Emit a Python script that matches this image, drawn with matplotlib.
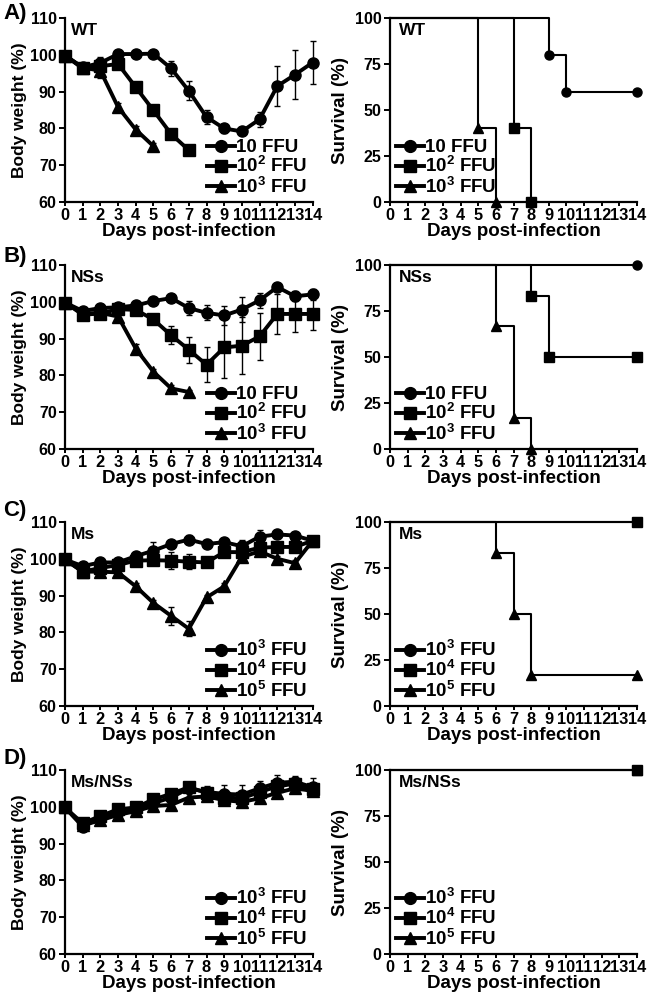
import numpy as np
import matplotlib
matplotlib.use('Agg')
import matplotlib.pyplot as plt
from matplotlib.lines import Line2D

plt.rcParams['font.family'] = ['Liberation Sans', 'DejaVu Sans']
plt.rcParams['font.weight'] = 'bold'
plt.rcParams['axes.labelweight'] = 'bold'
plt.rcParams['mathtext.fontset'] = 'custom'
plt.rcParams['mathtext.rm'] = 'Liberation Sans:bold'
plt.rcParams['mathtext.it'] = 'Liberation Sans:bold:italic'
plt.rcParams['mathtext.bf'] = 'Liberation Sans:bold'

days = list(range(15))

# ---- body weight (%), mean and error per day ----
wt_10 = [99.8, 96.6, 97.8, 100.2, 100.2, 100.3, 96.3, 90.2, 83.1, 80.0, 79.2, 82.5, 91.5, 94.6, 97.9]
wt_10_err = [0, 0.8, 1.5, 0, 0, 0, 2.0, 2.6, 1.9, 1.3, 1.0, 2.0, 5.5, 6.7, 5.8]
wt_1e2 = [99.8, 96.3, 96.9, 97.5, 91.2, 84.9, 78.5, 74.1]
wt_1e2_err = [0, 0.8, 1.2, 1.0, 1.2, 1.0, 1.0, 0.8]
wt_1e3 = [99.8, 96.5, 95.7, 85.8, 79.7, 75.2]
wt_1e3_err = [0, 0.8, 2.0, 1.0, 1.0, 0.8]

nss_10 = [99.8, 97.5, 98.3, 98.5, 99.0, 100.2, 101.0, 98.3, 97.0, 96.3, 97.9, 100.4, 104.0, 101.5, 102.0]
nss_10_err = [0, 0.5, 0.5, 0.5, 0.8, 0.8, 0.8, 2.0, 2.0, 2.5, 3.4, 2.0, 1.2, 1.4, 1.5]
nss_1e2 = [99.8, 96.5, 96.8, 98.0, 97.8, 95.2, 90.9, 87.0, 82.9, 87.6, 88.1, 90.6, 96.7, 96.7, 96.7]
nss_1e2_err = [0, 0.8, 0.8, 0.8, 1.0, 1.0, 2.4, 3.5, 4.7, 8.2, 7.7, 6.4, 5.5, 5.0, 4.3]
nss_1e3 = [99.8, 96.8, 97.0, 96.0, 87.3, 81.0, 76.5, 75.5]
nss_1e3_err = [0, 0.5, 0.5, 1.0, 1.2, 0.8, 0.8, 0.5]

ms_1e3 = [99.8, 98.0, 99.0, 99.0, 100.7, 102.2, 104.0, 105.2, 104.0, 104.5, 103.4, 106.0, 106.6, 106.3, 104.9]
ms_1e3_err = [0, 0.5, 0.5, 0.5, 0.8, 2.3, 1.0, 1.2, 0.8, 0.8, 1.8, 1.8, 0.8, 0.8, 0.8]
ms_1e4 = [99.8, 96.5, 97.5, 98.3, 99.5, 99.6, 99.5, 99.2, 99.0, 101.8, 101.8, 103.0, 103.2, 103.2, 104.9]
ms_1e4_err = [0, 0.5, 0.5, 0.5, 0.5, 0.8, 2.2, 2.0, 0.8, 0.8, 0.8, 0.8, 0.8, 0.8, 0.8]
ms_1e5 = [99.8, 96.5, 96.5, 96.3, 92.5, 88.0, 84.5, 81.0, 89.5, 92.5, 100.5, 102.0, 100.0, 98.8, 104.9]
ms_1e5_err = [0, 0.5, 0.5, 0.5, 0.8, 0.8, 2.5, 2.0, 0.8, 0.8, 1.0, 1.0, 0.8, 0.8, 0.8]

mn_1e3 = [99.8, 94.6, 97.0, 98.5, 99.3, 101.0, 102.5, 105.0, 104.0, 103.5, 103.3, 105.0, 106.5, 106.8, 105.3]
mn_1e3_err = [0, 0.8, 0.8, 0.8, 0.8, 0.8, 1.0, 1.0, 1.5, 2.3, 2.5, 2.0, 2.0, 1.5, 2.5]
mn_1e4 = [99.8, 95.5, 97.5, 99.3, 99.8, 102.0, 103.5, 105.3, 103.8, 102.5, 102.3, 104.0, 105.5, 106.3, 104.7]
mn_1e4_err = [0, 0.8, 0.8, 0.8, 0.8, 0.8, 0.8, 1.0, 1.0, 1.0, 1.0, 1.0, 1.0, 1.0, 1.5]
mn_1e5 = [99.8, 95.0, 96.3, 97.8, 98.8, 100.2, 100.5, 102.5, 102.8, 101.8, 101.3, 102.3, 103.8, 105.0, 104.3]
mn_1e5_err = [0, 0.8, 0.8, 0.8, 0.8, 0.8, 0.8, 1.0, 1.0, 1.0, 1.0, 1.0, 1.0, 1.0, 1.0]

# ---- survival (%), day of each step ----
wt_surv_10_x, wt_surv_10_y = [0, 9, 10, 14], [100, 80, 60, 60]
wt_surv_1e2_x, wt_surv_1e2_y = [0, 7, 8], [100, 40, 0]
wt_surv_1e3_x, wt_surv_1e3_y = [0, 5, 6], [100, 40, 0]

nss_surv_10_x, nss_surv_10_y = [0, 14], [100, 100]
nss_surv_1e2_x, nss_surv_1e2_y = [0, 8, 9, 14], [100, 83.3, 50, 50]
nss_surv_1e3_x, nss_surv_1e3_y = [0, 6, 7, 8], [100, 66.7, 16.7, 0]

ms_surv_1e3_x, ms_surv_1e3_y = [0, 14], [100, 100]
ms_surv_1e4_x, ms_surv_1e4_y = [0, 14], [100, 100]
ms_surv_1e5_x, ms_surv_1e5_y = [0, 6, 7, 8, 14], [100, 83.3, 50, 16.7, 16.7]

mn_surv_1e3_x, mn_surv_1e3_y = [0, 14], [100, 100]
mn_surv_1e4_x, mn_surv_1e4_y = [0, 14], [100, 100]
mn_surv_1e5_x, mn_surv_1e5_y = [0, 14], [100, 100]

low_labels = ['10 FFU', '10$^2$ FFU', '10$^3$ FFU']
high_labels = ['10$^3$ FFU', '10$^4$ FFU', '10$^5$ FFU']
markers = ['o', 's', '^']

rows = [
    ('A)', 'WT', low_labels,
     [(wt_10, wt_10_err), (wt_1e2, wt_1e2_err), (wt_1e3, wt_1e3_err)],
     [(wt_surv_10_x, wt_surv_10_y), (wt_surv_1e2_x, wt_surv_1e2_y), (wt_surv_1e3_x, wt_surv_1e3_y)]),
    ('B)', 'NSs', low_labels,
     [(nss_10, nss_10_err), (nss_1e2, nss_1e2_err), (nss_1e3, nss_1e3_err)],
     [(nss_surv_10_x, nss_surv_10_y), (nss_surv_1e2_x, nss_surv_1e2_y), (nss_surv_1e3_x, nss_surv_1e3_y)]),
    ('C)', 'Ms', high_labels,
     [(ms_1e3, ms_1e3_err), (ms_1e4, ms_1e4_err), (ms_1e5, ms_1e5_err)],
     [(ms_surv_1e3_x, ms_surv_1e3_y), (ms_surv_1e4_x, ms_surv_1e4_y), (ms_surv_1e5_x, ms_surv_1e5_y)]),
    ('D)', 'Ms/NSs', high_labels,
     [(mn_1e3, mn_1e3_err), (mn_1e4, mn_1e4_err), (mn_1e5, mn_1e5_err)],
     [(mn_surv_1e3_x, mn_surv_1e3_y), (mn_surv_1e4_x, mn_surv_1e4_y), (mn_surv_1e5_x, mn_surv_1e5_y)]),
]

row_bottoms = [0.797, 0.549, 0.291, 0.042]
row_height = 0.185
letter_y = [0.986, 0.742, 0.487, 0.238]


def style_axes(ax):
    for side in ['top', 'right']:
        ax.spines[side].set_visible(False)
    for side in ['left', 'bottom']:
        ax.spines[side].set_linewidth(1.6)
    ax.set_xlim(0, 14)
    ax.set_xticks(days)
    ax.tick_params(axis='x', length=3, width=1.4, pad=1.5, labelsize=11.8)
    ax.tick_params(axis='y', length=4, width=1.4, pad=2, labelsize=11.5)
    ax.set_xlabel('Days post-infection', fontsize=13.5, labelpad=0)


def legend_handles(labels, lw):
    return [Line2D([], [], color='black', marker=m, lw=lw, ms=8.5, label=l)
            for m, l in zip(markers, labels)]


fig = plt.figure(figsize=(6.5, 9.96), dpi=100)

for (letter, tag, labels, weights, survs), bottom, ly in zip(rows, row_bottoms, letter_y):
    # body weight panel
    ax = fig.add_axes([0.1, bottom, 0.381, row_height])
    for (vals, err), m in zip(weights, markers):
        x = days[:len(vals)]
        ax.errorbar(x, vals, yerr=err, fmt='none', ecolor='black', elinewidth=1,
                    capsize=2.5, capthick=1, clip_on=False, zorder=2)
        ax.plot(x, vals, color='black', marker=m, lw=2.8, ms=8, clip_on=False, zorder=3)
    ax.set_ylim(60, 110)
    ax.set_yticks([60, 70, 80, 90, 100, 110])
    ax.set_ylabel('Body weight (%)', fontsize=12.5, labelpad=2)
    style_axes(ax)
    ax.text(0.025, 0.97, tag, transform=ax.transAxes, fontsize=12.5, fontweight='bold',
            va='top', ha='left')
    ax.legend(handles=legend_handles(labels, 2.8), loc='lower right', frameon=False,
              fontsize=13.5, handlelength=1.5, handletextpad=0.05, labelspacing=0.0,
              borderaxespad=0.1, borderpad=0.2)
    fig.text(0.005, ly, letter, fontsize=16, fontweight='bold', va='center', ha='left')

    # survival panel
    ax = fig.add_axes([0.6, bottom, 0.38, row_height])
    for (sx, sy), m in zip(survs, markers):
        z = 4 if m == 's' else 3
        ax.step(sx, sy, where='post', color='black', lw=1.5, clip_on=False, zorder=z)
        ax.plot(sx[1:], sy[1:], linestyle='none', color='black', marker=m, ms=6.5,
                clip_on=False, zorder=z)
    ax.set_ylim(0, 100)
    ax.set_yticks([0, 25, 50, 75, 100])
    ax.set_ylabel('Survival (%)', fontsize=13.5, labelpad=4)
    style_axes(ax)
    ax.text(0.036, 0.97, tag, transform=ax.transAxes, fontsize=12.5, fontweight='bold',
            va='top', ha='left')
    ax.legend(handles=legend_handles(labels, 2.8), loc='lower left', frameon=False,
              fontsize=13.5, handlelength=1.5, handletextpad=0.05, labelspacing=0.0,
              borderaxespad=0.1, borderpad=0.2)

fig.savefig('out.png', dpi=100)
